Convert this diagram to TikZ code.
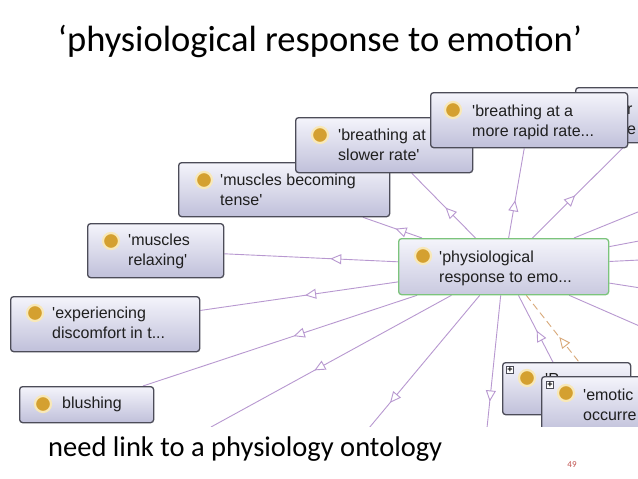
\documentclass[tikz,border=0pt]{standalone}
\usepackage{fontspec}
\setmainfont{Carlito}
\newfontfamily\nodefont{Liberation Sans}
\usetikzlibrary{arrows.meta,decorations.markings,backgrounds}
\pgfdeclarelayer{bgwhite}
\pgfsetlayers{bgwhite,background,main}
\definecolor{edgec}{HTML}{B898D0}
\definecolor{dashc}{HTML}{D8A878}
\definecolor{boxtop}{HTML}{F4F4FB}
\definecolor{boxbot}{HTML}{C0C0DA}
\definecolor{boxline}{HTML}{4C4C58}
\definecolor{greenline}{HTML}{7CC47C}
\definecolor{gold}{HTML}{D4A030}
\definecolor{halo}{HTML}{F8E8B8}
\definecolor{pagenum}{HTML}{C0504D}
\newcommand{\sq}{\textquotesingle}
\tikzset{
  obox/.style={draw=boxline, line width=1.3pt, rounded corners=3pt, top color=boxtop, bottom color=boxbot, inner sep=0pt, anchor=north west},
  cbox/.style={draw=greenline, line width=1.3pt, rounded corners=3pt, top color=boxtop, bottom color=boxbot!85!white, inner sep=0pt, anchor=north west},
  goldc/.style={circle, fill=gold, draw=halo, line width=2.2pt, minimum size=16pt, inner sep=0pt},
  ltext/.style={anchor=west, align=left, inner sep=0pt, text=black!88, font=\nodefont\fontsize{16}{20}\selectfont},
  plusbox/.style={draw=boxline, fill=white, line width=0.6pt, minimum size=7.5pt, inner sep=0pt, font=\nodefont\fontsize{9}{9}\selectfont\bfseries},
  edge/.style={draw=edgec, line width=0.9pt},
  dashedge/.style={draw=dashc, line width=0.9pt, dash pattern=on 7pt off 4pt},
  fwd/.style={postaction={decorate}, decoration={markings, mark=at position #1 with {\arrow{Triangle[open, fill=white, length=11pt, width=10pt]}}}},
  rev/.style={postaction={decorate}, decoration={markings, mark=at position #1 with {\arrowreversed{Triangle[open, fill=white, length=11pt, width=10pt]}}}},
}
\begin{document}
\begin{tikzpicture}[x=1pt,y=-1pt]
\useasboundingbox (0,0) rectangle (638,479);
\begin{pgfonlayer}{bgwhite}
\fill[white] (0,0) rectangle (638,479);
\end{pgfonlayer}

% title and footer
\node[anchor=base, inner sep=0pt, font=\fontsize{36.5}{40}\selectfont] (title) at (320,52) {‘physiological response to emotion’};
\node[anchor=base west, inner sep=0pt, font=\fontsize{28.5}{32}\selectfont] (note) at (48,456) {need link to a physiology ontology};
\node[anchor=base, inner sep=0pt, text=pagenum, font=\fontsize{9}{10}\selectfont] (pnum) at (572,467) {49};

\begin{scope}
\clip (0,80) rectangle (638,426);
% back box, top right
\node[obox, minimum width=160pt, minimum height=55pt] (b2) at (575,87) {};
\node[ltext] (b2t) at (627,120) {r\\e};
% muscles becoming tense
\node[obox, minimum width=211pt, minimum height=54pt] (b4) at (178,162) {};
\node[goldc] (b4d) at (204,180) {};
\node[ltext] (b4t) at (220,190) {\sq muscles becoming\\tense\sq};
% breathing at slower rate
\node[obox, minimum width=177pt, minimum height=55pt] (b3) at (295,117) {};
\node[goldc] (b3d) at (320,135) {};
\node[ltext] (b3t) at (338,145) {\sq breathing at\\slower rate\sq};
% breathing at a more rapid rate
\node[obox, minimum width=197pt, minimum height=55pt] (b1) at (430,92) {};
\node[goldc] (b1d) at (453,110) {};
\node[ltext] (b1t) at (472,122) {\sq breathing at a\\more rapid rate...};
% muscles relaxing
\node[obox, minimum width=136pt, minimum height=54pt] (b5) at (87,223) {};
\node[goldc] (b5d) at (111,241) {};
\node[ltext] (b5t) at (128,251) {\sq muscles\\relaxing\sq};
% experiencing discomfort
\node[obox, minimum width=189pt, minimum height=55pt] (b6) at (10,296) {};
\node[goldc] (b6d) at (35,313) {};
\node[ltext] (b6t) at (52,323) {\sq experiencing\\discomfort in t...};
% blushing
\node[obox, minimum width=134pt, minimum height=36pt] (b7) at (19,386) {};
\node[goldc] (b7d) at (43,404) {};
\node[ltext] (b7t) at (62,404) {blushing};
% centre
\node[cbox, minimum width=210pt, minimum height=56pt] (c) at (398,238) {};
\node[goldc] (cd) at (423,256) {};
\node[ltext] (ct) at (439,268) {\sq physiological\\response to emo...};
% bottom right boxes
\node[obox, minimum width=128pt, minimum height=52pt] (bA) at (502,362) {};
\node[plusbox] (bAp) at (510,370) {+};
\node[goldc] (bAd) at (527,378) {};
\node[ltext] (bAt) at (545,379) {\sq P};
\node[obox, minimum width=142pt, minimum height=56pt] (bB) at (541,376) {};
\node[plusbox] (bBp) at (550,385) {+};
\node[goldc] (bBd) at (566,393) {};
\node[ltext] (bBt) at (583,405) {\sq emotic\\occurre};
% free ends of edges leaving the view
\coordinate (ho) at (211,427);
\coordinate (io) at (369,428);
\coordinate (vo) at (487,428);
\coordinate (r1) at (660,203);
\coordinate (r2) at (660,237);
\coordinate (r3) at (660,259);
\coordinate (r4) at (660,291);
\coordinate (r5) at (660,335);
\end{scope}

\begin{pgfonlayer}{background}
\begin{scope}
\clip (0,80) rectangle (638,426);
\draw[edge, fwd=0.39] (c) -- (b5);
\draw[edge, fwd=0.47] (c) -- (b6);
\draw[edge, fwd=0.45] (c) -- (b7);
\draw[edge, fwd=0.45] (c) -- (b4);
\draw[edge, fwd=0.47] (c) -- (b3);
\draw[edge, fwd=0.42] (c) -- (b1);
\draw[edge, fwd=0.45] (c) -- (b2);
\draw[edge, fwd=0.57] (c) -- (ho);
\draw[edge, fwd=0.81] (c) -- (io);
\draw[edge, fwd=0.80] (c) -- (vo);
\draw[edge, rev=0.53] (c) -- (bA);
\draw[dashedge, rev=0.52] (c) -- (bB);
\draw[edge] (c) -- (r1);
\draw[edge] (c) -- (r2);
\draw[edge] (c) -- (r3);
\draw[edge] (c) -- (r4);
\draw[edge] (c) -- (r5);
\end{scope}
\end{pgfonlayer}
\end{tikzpicture}
\end{document}
